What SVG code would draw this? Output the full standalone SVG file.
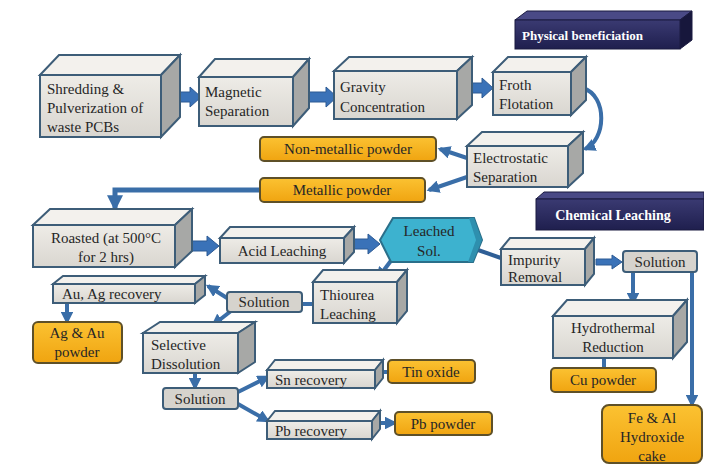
<svg xmlns="http://www.w3.org/2000/svg" width="704" height="465" viewBox="0 0 704 465" font-family="'Liberation Serif', serif">
<defs>
<linearGradient id="gf" x1="0" y1="0" x2="0" y2="1"><stop offset="0" stop-color="#eeece7"/><stop offset="1" stop-color="#d9d6d0"/></linearGradient>
<linearGradient id="go" x1="0" y1="0" x2="0" y2="1"><stop offset="0" stop-color="#fbc232"/><stop offset="1" stop-color="#f0a410"/></linearGradient>
<linearGradient id="gn" x1="0" y1="0" x2="0" y2="1"><stop offset="0" stop-color="#3a3a72"/><stop offset="1" stop-color="#1f1f4e"/></linearGradient>
<marker id="ah" viewBox="0 0 10 10" refX="8" refY="5" markerWidth="3.2" markerHeight="3.2" orient="auto"><path d="M0,0 L10,5 L0,10 z" fill="#3a6ea8"/></marker>
</defs>
<style>
.f{fill:url(#gf);stroke:#3d5d78;stroke-width:2}
.t{fill:#f3f1ed;stroke:#3d5d78;stroke-width:2}
.s{fill:#a7a8a6;stroke:#3d5d78;stroke-width:2}
.o{fill:url(#go);stroke:#5e5028;stroke-width:2}
.g{fill:#d6d3cd;stroke:#3d5d78;stroke-width:2}
.n{fill:url(#gn);stroke:#1a1a40;stroke-width:1}
.nt{fill:#4a4a86;stroke:#1a1a40;stroke-width:1}
.ns{fill:#17173c;stroke:#1a1a40;stroke-width:1}
text{font-family:'Liberation Serif',serif;font-size:15px;fill:#262626}
.c{text-anchor:middle}
.w{fill:#ffffff;font-weight:bold;font-size:14px}
.ba{fill:#3a72b8;stroke:#2c5a94;stroke-width:1}
.ln{fill:none;stroke:#3a6ea8;stroke-width:4}
.la{fill:none;stroke:#3a6ea8;stroke-width:4;marker-end:url(#ah)}
</style>
<rect width="704" height="465" fill="#ffffff"/>

<g id="connectors">
<polygon class="ba" points="163,92 190,92 190,87 201,97 190,107 190,102 163,102 168,97"/>
<polygon class="ba" points="301,92 326,92 326,87 337,97 326,107 326,102 301,102 306,97"/>
<polygon class="ba" points="461,83 482,83 482,78 493,88 482,98 482,93 461,93 466,88"/>
<polygon class="ba" points="176,241 207,241 207,236 219,246 207,256 207,251 176,251 181,246"/>
<polygon class="ba" points="345,239 368,239 368,234 380,244 368,254 368,249 345,249 350,244"/>
<polygon class="ba" points="596,259 612,259 612,255 622,262 612,269 612,265 596,265"/>
<path class="la" d="M583,88 C608,96 606,140 585,149"/>
<path class="la" d="M467,158 L440,149"/>
<path class="la" d="M467,177 L429,190"/>
<path class="la" d="M260,190 L115,190 L115,208" style="stroke-width:5"/>
<path class="ln" d="M478,250 L501,258" style="stroke:#2f5f96"/>
<path class="la" d="M393,258 L378,278"/>
<path class="ln" d="M313,304 L302,304"/>
<path class="la" d="M227,298 L208,286"/>
<path class="la" d="M231,311 L213,325"/>
<path class="la" d="M67,303 L67,322"/>
<path class="la" d="M195,373 L195,388"/>
<path class="la" d="M238,392 L268,377"/>
<path class="la" d="M238,404 L268,421"/>
<path class="ln" d="M378,372 L388,372"/>
<path class="la" d="M375,423 L395,423"/>
<path class="la" d="M633,272 L633,303"/>
<path class="la" d="M692,272 L692,405"/>
<path class="ln" d="M604,358 L604,368"/>
</g>

<g id="physical">
<polygon class="nt" points="515,20 527,11 692,11 680,20"/>
<polygon class="ns" points="680,20 692,11 692,40 680,49"/>
<rect class="n" x="515" y="20" width="165" height="29"/>
<text class="w" x="522" y="40" style="font-size:13px">Physical beneficiation</text>
</g>

<g id="shredding">
<polygon class="t" points="40,75 59,55 180,55 161,75"/>
<polygon class="s" points="161,75 180,55 180,117 161,137"/>
<rect class="f" x="40" y="75" width="121" height="62"/>
<text x="47" y="94">Shredding &amp;</text>
<text x="47" y="113">Pulverization of</text>
<text x="47" y="132">waste PCBs</text>
</g>

<g id="magnetic">
<polygon class="t" points="199,77 215,59 309,59 293,77"/>
<polygon class="s" points="293,77 309,59 309,108 293,126"/>
<rect class="f" x="199" y="77" width="94" height="49"/>
<text x="205" y="97">Magnetic</text>
<text x="205" y="116">Separation</text>
</g>

<g id="gravity">
<polygon class="t" points="334,71 349,57 472,57 457,71"/>
<polygon class="s" points="457,71 472,57 472,105 457,119"/>
<rect class="f" x="334" y="71" width="123" height="48"/>
<text x="340" y="92">Gravity</text>
<text x="340" y="112">Concentration</text>
</g>

<g id="froth">
<polygon class="t" points="493,72 508,57 586,57 571,72"/>
<polygon class="s" points="571,72 586,57 586,100 571,115"/>
<rect class="f" x="493" y="72" width="78" height="43"/>
<text x="499" y="90">Froth</text>
<text x="499" y="109">Flotation</text>
</g>

<g id="electrostatic">
<polygon class="t" points="467,146 482,132 583,132 568,146"/>
<polygon class="s" points="568,146 583,132 583,173 568,187"/>
<rect class="f" x="467" y="146" width="101" height="41"/>
<text x="473" y="163">Electrostatic</text>
<text x="473" y="182">Separation</text>
</g>

<g id="nonmetallic">
<rect class="o" x="260" y="137" width="176" height="24" rx="4"/>
<text class="c" x="348" y="154">Non-metallic powder</text>
</g>

<g id="metallic">
<rect class="o" x="260" y="178" width="165" height="24" rx="4"/>
<text class="c" x="342" y="195">Metallic powder</text>
</g>

<g id="chemical">
<polygon class="nt" points="536,199 544,192 704,192 704,199"/>
<rect class="n" x="536" y="199" width="168" height="31"/>
<text class="w c" x="613" y="220">Chemical Leaching</text>
</g>

<g id="roasted">
<polygon class="t" points="33,225 50,209 192,209 175,225"/>
<polygon class="s" points="175,225 192,209 192,251 175,267"/>
<rect class="f" x="33" y="225" width="142" height="42"/>
<text class="c" x="106" y="243">Roasted (at 500°C</text>
<text class="c" x="106" y="262">for 2 hrs)</text>
</g>

<g id="acid">
<polygon class="t" points="220,238 230,227 354,227 344,238"/>
<polygon class="s" points="344,238 354,227 354,252 344,263"/>
<rect class="f" x="220" y="238" width="124" height="25"/>
<text class="c" x="282" y="256">Acid Leaching</text>
</g>

<g id="leached">
<polygon points="380,240 393,218 474,218 482,240 473,262 391,262" fill="#3db2cf" stroke="#2a6f8a" stroke-width="2"/>
<polygon points="474,218 482,240 473,262 468,262 476,240 469,218" fill="#2e8fae"/>
<text class="c" x="429" y="236">Leached</text>
<text class="c" x="429" y="256">Sol.</text>
</g>

<g id="impurity">
<polygon class="t" points="501,249 510,238 594,238 585,249"/>
<polygon class="s" points="585,249 594,238 594,274 585,285"/>
<rect class="f" x="501" y="249" width="84" height="36"/>
<text x="508" y="265">Impurity</text>
<text x="508" y="282">Removal</text>
</g>

<g id="solution-right">
<rect class="g" x="623" y="251" width="74" height="21" rx="3"/>
<text class="c" x="660" y="267">Solution</text>
</g>

<g id="thiourea">
<polygon class="t" points="313,282 323,270 407,270 397,282"/>
<polygon class="s" points="397,282 407,270 407,311 397,323"/>
<rect class="f" x="313" y="282" width="84" height="41"/>
<text x="320" y="300">Thiourea</text>
<text x="320" y="319">Leaching</text>
</g>

<g id="solution-mid">
<rect class="g" x="227" y="292" width="75" height="20" rx="3"/>
<text class="c" x="264" y="307">Solution</text>
</g>

<g id="auag">
<polygon class="t" points="53,284 63,276 205,276 195,284"/>
<polygon class="s" points="195,284 205,276 205,295 195,303"/>
<rect class="f" x="53" y="284" width="142" height="19"/>
<text x="62" y="299">Au, Ag recovery</text>
</g>

<g id="agaupowder">
<rect class="o" x="33" y="322" width="89" height="41" rx="5"/>
<text class="c" x="77" y="338">Ag &amp; Au</text>
<text class="c" x="77" y="357">powder</text>
</g>

<g id="selective">
<polygon class="t" points="143,333 160,322 255,322 238,333"/>
<polygon class="s" points="238,333 255,322 255,362 238,373"/>
<rect class="f" x="143" y="333" width="95" height="40"/>
<text x="151" y="350">Selective</text>
<text x="151" y="369">Dissolution</text>
</g>

<g id="solution-bottom">
<rect class="g" x="163" y="388" width="75" height="21" rx="3"/>
<text class="c" x="200" y="404">Solution</text>
</g>

<g id="sn">
<polygon class="t" points="267,370 275,360 383,360 375,370"/>
<polygon class="s" points="375,370 383,360 383,378 375,388"/>
<rect class="f" x="267" y="370" width="108" height="18"/>
<text x="275" y="385">Sn recovery</text>
</g>

<g id="pb">
<polygon class="t" points="267,421 275,411 380,411 372,421"/>
<polygon class="s" points="372,421 380,411 380,429 372,439"/>
<rect class="f" x="267" y="421" width="105" height="18"/>
<text x="275" y="436">Pb recovery</text>
</g>

<g id="tinoxide">
<rect class="o" x="388" y="360" width="87" height="23" rx="4"/>
<text class="c" x="431" y="377">Tin oxide</text>
</g>

<g id="pbpowder">
<rect class="o" x="395" y="412" width="97" height="23" rx="4"/>
<text class="c" x="443" y="429">Pb powder</text>
</g>

<g id="hydrothermal">
<polygon class="t" points="553,316 567,300 687,300 673,316"/>
<polygon class="s" points="673,316 687,300 687,342 673,358"/>
<rect class="f" x="553" y="316" width="120" height="42"/>
<text class="c" x="613" y="333">Hydrothermal</text>
<text class="c" x="613" y="352">Reduction</text>
</g>

<g id="cupowder">
<rect class="o" x="551" y="368" width="105" height="24" rx="4"/>
<text class="c" x="603" y="385">Cu powder</text>
</g>

<g id="feal">
<rect class="o" x="602" y="405" width="100" height="58" rx="7"/>
<text class="c" x="652" y="423">Fe &amp; Al</text>
<text class="c" x="652" y="442">Hydroxide</text>
<text class="c" x="652" y="461">cake</text>
</g>
</svg>
